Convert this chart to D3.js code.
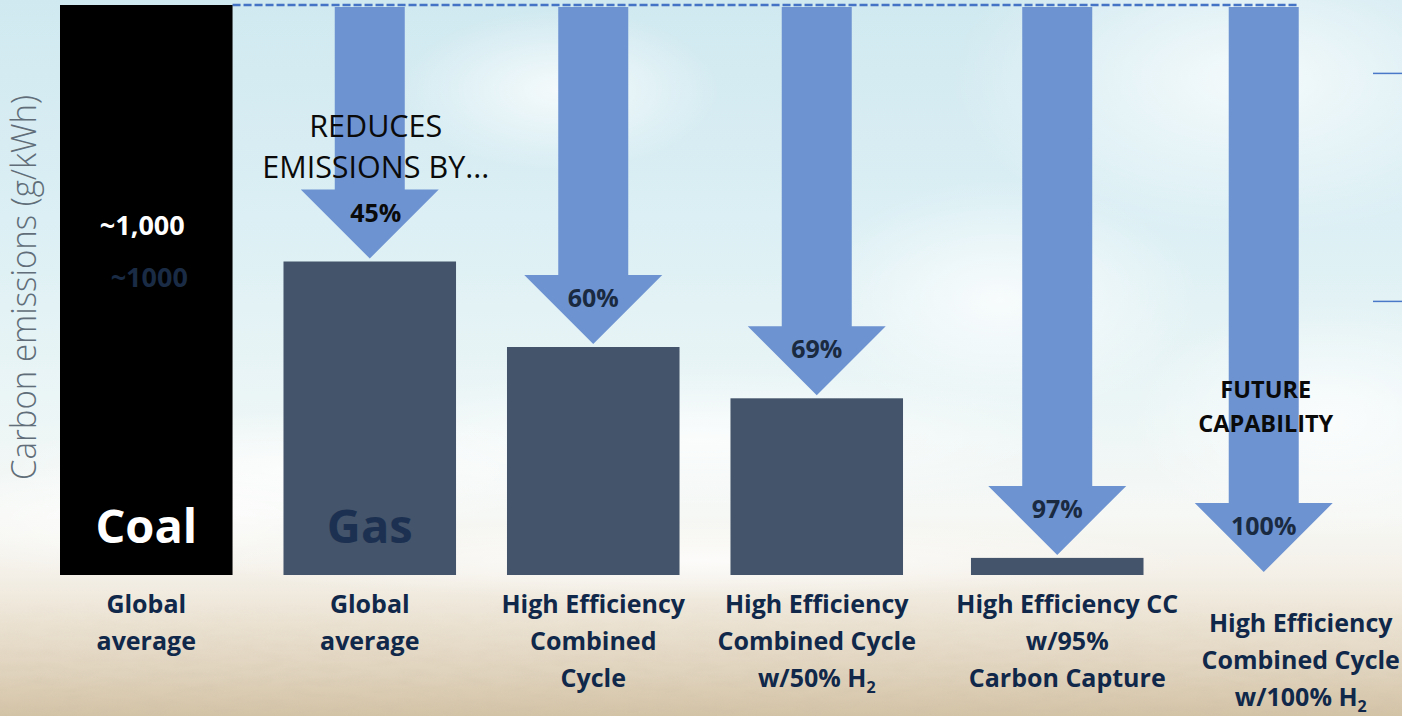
<!DOCTYPE html>
<html>
<head>
<meta charset="utf-8">
<script src="https://cdn.jsdelivr.net/npm/d3@7"></script>
<style>
  html, body { margin: 0; padding: 0; background: #ffffff; }
  svg { display: block; }
</style>
</head>
<body>
<svg id="chart" width="1402" height="716"></svg>
<script>
// ---- data ----
const categories = ["coal", "gas", "hecc", "hecc50", "cc95", "hecc100"];
const emissions = [1000, 550, 400, 310, 30, 0];          // g/kWh
const reductions = [null, 45, 60, 69, 97, 100];           // % vs. coal
const barNames = ["Coal", "Gas", "", "", "", ""];
const categoryLabels = [
  ["Global", "average"],
  ["Global", "average"],
  ["High Efficiency", "Combined", "Cycle"],
  ["High Efficiency", "Combined Cycle", "w/50% H|2"],
  ["High Efficiency CC", "w/95%", "Carbon Capture"],
  ["High Efficiency", "Combined Cycle", "w/100% H|2"]
];
const coalValueLabels = ["~1,000", "~1000"];
const introLines = ["REDUCES", "EMISSIONS BY..."];
const futureLines = ["FUTURE", "CAPABILITY"];
const yTitle = "Carbon emissions (g/kWh)";

// ---- layout ----
const W = 1402, H = 716;
const svg = d3.select("#chart");
const defs = svg.append("defs");

const x = d3.scaleBand().domain(categories).range([60, 1350]).paddingInner(0.228).paddingOuter(0);
const y = d3.scaleLinear().domain([0, 1000]).range([575, 5]);
const bw = x.bandwidth();
const nudge = { cc95: 17 };                     // carbon-capture group sits a little right
const cx = k => x(k) + bw / 2 + (nudge[k] || 0);

// ---- background: sky fading into sand ----
const sky = defs.append("linearGradient").attr("id", "sky").attr("x1", 0).attr("y1", 0).attr("x2", 0).attr("y2", 1);
[[0, "#d0e9f0"], [0.3, "#dbeff4"], [0.55, "#eaf5f6"], [0.72, "#f6f8f5"], [0.8, "#f4f0e8"],
 [0.87, "#ebe2d2"], [0.94, "#e0d3bd"], [1, "#d3c3a6"]].forEach(([o, c]) =>
  sky.append("stop").attr("offset", o).attr("stop-color", c));
svg.append("rect").attr("width", W).attr("height", H).attr("fill", "url(#sky)");

const glow = defs.append("radialGradient").attr("id", "glow").attr("cx", 0.5).attr("cy", 0.5).attr("r", 0.5);
glow.append("stop").attr("offset", 0).attr("stop-color", "#ffffff").attr("stop-opacity", 0.75);
glow.append("stop").attr("offset", 1).attr("stop-color", "#ffffff").attr("stop-opacity", 0);
const blobs = [[1250, 80, 300, 160], [1330, 420, 200, 120], [700, 440, 420, 70], [300, 470, 300, 60],
               [1000, 300, 200, 120], [560, 90, 160, 80], [150, 520, 260, 60], [700, 560, 500, 40]];
svg.append("g").selectAll("ellipse").data(blobs).join("ellipse")
  .attr("cx", d => d[0]).attr("cy", d => d[1]).attr("rx", d => d[2]).attr("ry", d => d[3])
  .attr("fill", "url(#glow)");

// sandy grain near the bottom
const grain = defs.append("filter").attr("id", "grain").attr("x", 0).attr("y", 0).attr("width", 1).attr("height", 1);
grain.append("feTurbulence").attr("type", "fractalNoise").attr("baseFrequency", "0.035 0.14")
  .attr("numOctaves", 3).attr("seed", 7).attr("result", "n");
grain.append("feColorMatrix").attr("in", "n").attr("type", "matrix")
  .attr("values", "0 0 0 0 0.62  0 0 0 0 0.53  0 0 0 0 0.40  0 0 0 -1.6 1.0");
const fade = defs.append("linearGradient").attr("id", "fade").attr("x1", 0).attr("y1", 0).attr("x2", 0).attr("y2", 1);
fade.append("stop").attr("offset", 0).attr("stop-color", "#fff").attr("stop-opacity", 0);
fade.append("stop").attr("offset", 0.5).attr("stop-color", "#fff").attr("stop-opacity", 0.3);
fade.append("stop").attr("offset", 1).attr("stop-color", "#fff").attr("stop-opacity", 0.85);
const mask = defs.append("mask").attr("id", "sandMask");
mask.append("rect").attr("x", 0).attr("y", 600).attr("width", W).attr("height", H - 600).attr("fill", "url(#fade)");
svg.append("rect").attr("x", 0).attr("y", 600).attr("width", W).attr("height", H - 600)
  .attr("filter", "url(#grain)").attr("mask", "url(#sandMask)").attr("opacity", 0.5);

// ---- y title ----
svg.append("text")
  .attr("transform", `translate(36,${(95 + 480) / 2}) rotate(-90)`)
  .attr("text-anchor", "middle")
  .attr("font-family", "'Open Sans', sans-serif").attr("font-weight", 300)
  .attr("font-size", 34).attr("fill", "#616e79")
  .attr("textLength", 385).attr("lengthAdjust", "spacingAndGlyphs")
  .text(yTitle);

// ---- reference line at the coal level + right-edge ticks ----
svg.append("line")
  .attr("x1", x("coal") + bw).attr("x2", cx("hecc100") + 35)
  .attr("y1", y(1000)).attr("y2", y(1000))
  .attr("stroke", "#4472c4").attr("stroke-width", 2.5).attr("stroke-dasharray", "8,3");
svg.append("g").selectAll("line").data([y(880), y(480)]).join("line")
  .attr("x1", 1373).attr("x2", W).attr("y1", d => d).attr("y2", d => d)
  .attr("stroke", "#4a78c8").attr("stroke-width", 1.5);

// ---- bars ----
const rows = categories.map((k, i) => ({
  key: k, value: emissions[i], red: reductions[i], name: barNames[i], lines: categoryLabels[i]
}));
svg.append("g").selectAll("rect").data(rows.filter(d => d.value > 0)).join("rect")
  .attr("x", d => cx(d.key) - bw / 2).attr("width", bw)
  .attr("y", d => y(d.value)).attr("height", d => y(0) - y(d.value))
  .attr("fill", d => d.key === "coal" ? "#000000" : "#44546a");

// ---- reduction arrows ----
const shaftHalf = 35, headHalf = 69, headH = 69;
const arrowRows = rows.filter(d => d.red != null);
const arrowTop = y(1000) + 2;
const tipY = d => y(d.value) - 3;
svg.append("g").selectAll("path").data(arrowRows).join("path")
  .attr("d", d => {
    const c = cx(d.key), t = tipY(d), hb = t - headH;
    return `M${c - shaftHalf},${arrowTop}H${c + shaftHalf}V${hb}H${c + headHalf}L${c},${t}L${c - headHalf},${hb}H${c - shaftHalf}Z`;
  })
  .attr("fill", "#6d93d1");

// percentage labels inside arrow heads
svg.append("g").selectAll("text").data(arrowRows).join("text")
  .attr("x", d => cx(d.key) + (d.key === "gas" ? 6 : 0))
  .attr("y", d => tipY(d) - headH + 32)
  .attr("text-anchor", "middle")
  .attr("font-family", "'Open Sans', sans-serif").attr("font-weight", 700).attr("font-size", 25)
  .attr("fill", d => d.key === "gas" ? "#0a0a0a" : "#1a2a40")
  .text(d => d.red + "%");

// ---- text on the bars ----
const coalC = cx("coal");
svg.append("g").selectAll("text").data(coalValueLabels).join("text")
  .attr("x", (d, i) => coalC - 4 + i * 7).attr("y", (d, i) => 235 + i * 52)
  .attr("text-anchor", "middle")
  .attr("font-family", "'Open Sans', sans-serif").attr("font-weight", 700).attr("font-size", 27)
  .attr("fill", (d, i) => i === 0 ? "#ffffff" : "#1a2c45")
  .text(d => d);

svg.append("g").selectAll("text").data(rows.filter(d => d.name)).join("text")
  .attr("x", d => cx(d.key)).attr("y", 543)
  .attr("text-anchor", "middle")
  .attr("font-family", "'Open Sans', sans-serif").attr("font-weight", 700).attr("font-size", 47)
  .attr("fill", d => d.key === "coal" ? "#ffffff" : "#1c3151")
  .text(d => d.name);

// ---- annotations ----
const gasC = cx("gas") + 6;
svg.append("g").selectAll("text").data(introLines).join("text")
  .attr("x", gasC).attr("y", (d, i) => 137 + i * 41)
  .attr("text-anchor", "middle")
  .attr("font-family", "'Open Sans', sans-serif").attr("font-weight", 400).attr("font-size", 30.5)
  .attr("fill", "#0a0a0a")
  .text(d => d);

svg.append("g").selectAll("text").data(futureLines).join("text")
  .attr("x", cx("hecc100") + 2).attr("y", (d, i) => 398 + i * 34)
  .attr("text-anchor", "middle")
  .attr("font-family", "'Open Sans', sans-serif").attr("font-weight", 700).attr("font-size", 23.5)
  .attr("fill", "#0a0a0a")
  .text(d => d);

// ---- category labels ----
const labelShift = { cc95: [10, 0], hecc100: [37, 19] };
const lab = svg.append("g").selectAll("text").data(rows).join("text")
  .attr("text-anchor", "middle")
  .attr("font-family", "'Open Sans', sans-serif").attr("font-weight", 700).attr("font-size", 25)
  .attr("fill", "#10284a");
lab.each(function (d) {
  const [dx, dy] = labelShift[d.key] || [0, 0];
  const t = d3.select(this);
  d.lines.forEach((line, i) => {
    const [main, sub] = line.split("|");
    t.append("tspan").attr("x", cx(d.key) + dx).attr("y", 613 + dy + i * 37).text(main);
    if (sub) {
      t.append("tspan").attr("dy", 6).attr("font-size", 16).text(sub);
    }
  });
});
</script>
</body>
</html>
